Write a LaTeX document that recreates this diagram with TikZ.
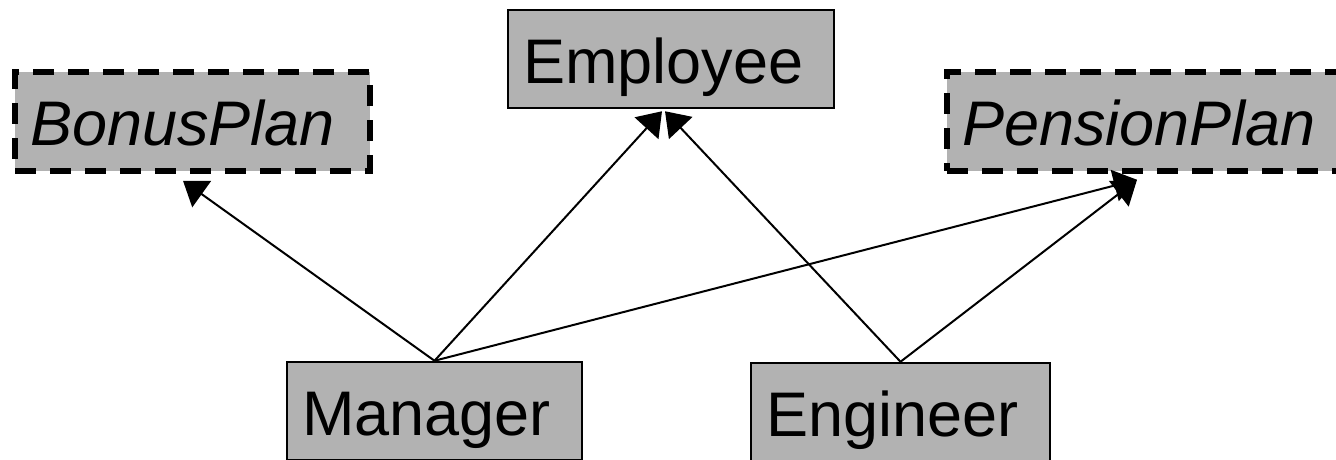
\documentclass[tikz,border=0pt]{standalone}
\usepackage{fontspec}
\setmainfont{Liberation Sans}
\usetikzlibrary{arrows.meta}
\begin{document}
\begin{tikzpicture}[x=1pt,y=-1pt,
  classbox/.style={draw=black, line width=2.5pt, fill=black!30, rectangle,
    inner xsep=15pt, inner ysep=0pt, align=left,
    text height=48pt, text depth=0pt,
    font=\fontsize{63}{70}\selectfont},
  abstractbox/.style={classbox, dash pattern=on 21pt off 14pt, line width=5.5pt,
    font=\fontsize{63}{70}\selectfont\itshape},
  conn/.style={draw=black, line width=2pt,
    -{Triangle[length=23pt,width=32pt]}}]
  \useasboundingbox (0,0) rectangle (1336,459);
  \clip (0,0) rectangle (1336,459);

  % classes
  \node[classbox, minimum width=326pt, minimum height=98pt, text width=296pt]
    (emp) at (671,59) {Employee};
  \node[abstractbox, minimum width=355pt, minimum height=99pt, text width=325pt]
    (bonus) at (192.5,121.5) {BonusPlan};
  \node[abstractbox, minimum width=395pt, minimum height=99pt, text width=365pt]
    (pension) at (1144.5,121.5) {PensionPlan};
  \node[classbox, minimum width=295pt, minimum height=98pt, text width=265pt]
    (mgr) at (434.5,411) {Manager};
  \node[classbox, minimum width=299pt, minimum height=98pt, text width=269pt]
    (eng) at (900.5,412) {Engineer};

  % generalisation / realisation arrows
  \draw[conn] (mgr.north) -- ([shift={(-9.5,7)}]bonus.south);
  \draw[conn] (mgr.north) -- ([shift={(-9,2)}]emp.south);
  \draw[conn] (mgr.north) -- ([shift={(-7.5,6)}]pension.south);
  \draw[conn] (eng.north) -- ([shift={(-6,2)}]emp.south);
  \draw[conn] (eng.north) -- ([shift={(-7.5,6)}]pension.south);
\end{tikzpicture}
\end{document}
